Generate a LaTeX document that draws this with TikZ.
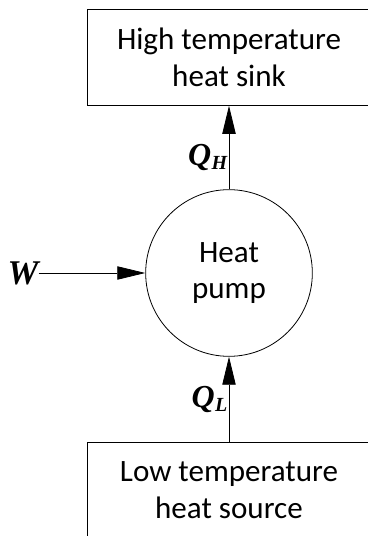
\documentclass[tikz,border=0pt]{standalone}
\usepackage{fontspec}
\setmainfont{Liberation Serif}
\setsansfont{Carlito}
\usetikzlibrary{arrows.meta,positioning}
\newcommand{\heatsub}[1]{Q\kern0.3pt\raisebox{-0.3ex}{\fontsize{15}{15}\selectfont #1}}

\begin{document}
\begin{tikzpicture}[font=\sffamily\fontsize{23.3}{27.5}\selectfont,
  blk/.style={draw,line width=0.6pt,align=center,minimum width=213pt,
    minimum height=72pt,inner sep=0pt},
  pumpnode/.style={circle,draw,line width=0.6pt,minimum size=125pt,
    align=center,inner sep=0pt},
  sym/.style={font=\rmfamily\bfseries\itshape\fontsize{24}{24}\selectfont,inner sep=1pt},
  arr/.style={-{Triangle[length=21pt,width=10pt]},line width=0.6pt}]
\useasboundingbox (0,0) rectangle (276pt,402pt);
\clip (0,0) rectangle (276pt,402pt);
% heat pump
\node[pumpnode] (pump) at (171.75pt,197.25pt) {Heat\\pump};
% sink and source
\node[blk,above=62.6pt of pump] (sink) {High temperature\\heat sink};
\node[blk,below=64pt of pump] (source) {Low temperature\\heat source};
% work input
\node[sym,font=\rmfamily\bfseries\itshape\fontsize{26}{26}\selectfont,inner sep=0pt,
  left=80pt of pump] (work) {W};
\draw[arr] (work) -- (pump);
\draw[arr] (pump) -- node[sym,left,pos=0.38] (qh) {\heatsub{H}} (sink);
\draw[arr] (source) -- node[sym,left,pos=0.5] (ql) {\heatsub{L}} (pump);
\end{tikzpicture}
\end{document}
